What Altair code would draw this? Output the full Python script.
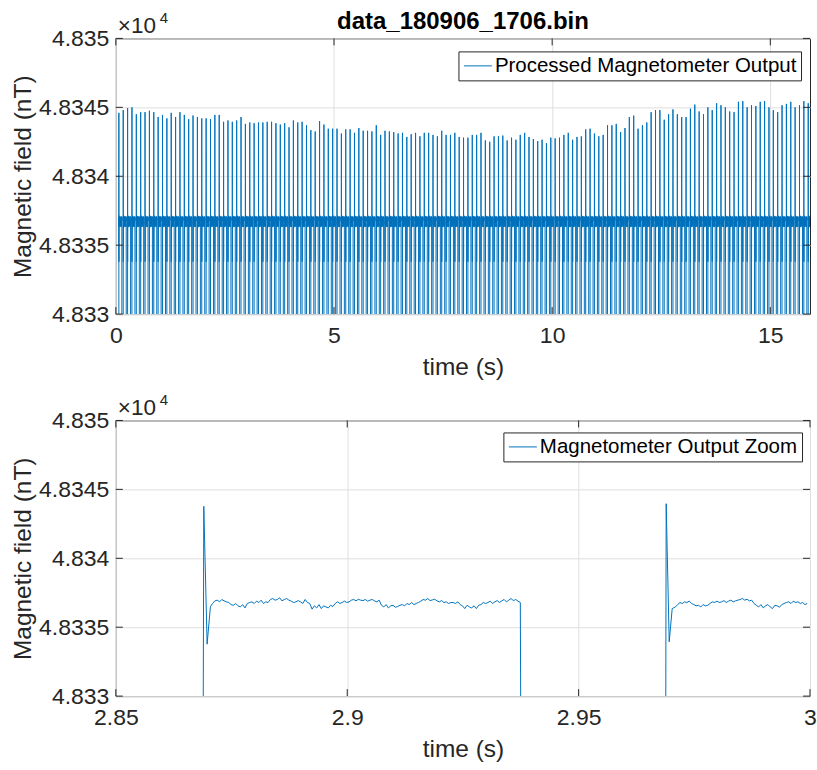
import altair as alt
import pandas as pd

alt.data_transformers.disable_max_rows()

BLUE = "#0072BD"
AX = "#262626"
GRID = "#dfdfdf"
FONT = "Liberation Sans"
W, H = 695, 276

# ---------------- data ----------------
# top panel: one spike every 0.1 s, sampled at 2 kHz
period_s = 0.1
first_rise_s = 0.06864
sample_step_s = 0.0005
spike_offsets_s = [0.0, 0.00036, 0.00108, 0.00179]
plateau_start_s = 0.00226
drop_offset_s = 0.06916
off_level_nT = 48300.0          # below the plotted range
dip_nT = 48333.8
recovery_nT = 48336.48

peak_nT = [
    48344.60, 48344.80, 48344.95, 48345.00, 48344.50, 48344.65, 48344.65, 48344.75, 48344.65, 48344.30,
    48344.45, 48344.20, 48344.60, 48344.30, 48344.65, 48344.45, 48344.15, 48344.40, 48344.30, 48344.20,
    48344.20, 48344.15, 48344.45, 48344.45, 48343.95, 48344.05, 48343.95, 48344.05, 48344.30, 48343.80,
    48343.90, 48343.85, 48343.90, 48343.90, 48343.95, 48343.95, 48343.85, 48343.75, 48343.85, 48343.55,
    48344.05, 48343.90, 48343.95, 48343.70, 48343.35, 48343.25, 48344.00, 48343.75, 48343.45, 48343.45,
    48343.45, 48343.10, 48343.40, 48343.40, 48343.15, 48343.50, 48343.30, 48343.30, 48343.25, 48343.70,
    48343.00, 48343.30, 48343.25, 48343.20, 48343.10, 48343.15, 48342.85, 48343.05, 48343.15, 48342.90,
    48343.15, 48343.15, 48343.00, 48342.90, 48343.30, 48343.00, 48343.00, 48343.15, 48342.85, 48342.80,
    48342.80, 48343.00, 48343.00, 48343.15, 48342.60, 48342.50, 48342.90, 48342.90, 48342.95, 48342.60,
    48342.80, 48342.65, 48343.00, 48343.15, 48342.85, 48342.70, 48342.55, 48342.65, 48342.40, 48342.80,
    48342.75, 48342.80, 48343.00, 48343.15, 48342.65, 48342.85, 48342.90, 48343.40, 48343.45, 48343.10,
    48342.90, 48343.00, 48343.70, 48343.70, 48343.80, 48343.20, 48343.50, 48344.30, 48344.40, 48343.45,
    48343.70, 48343.90, 48344.65, 48344.80, 48344.80, 48344.10, 48344.50, 48344.85, 48344.50, 48344.30,
    48344.30, 48344.90, 48345.20, 48344.70, 48344.50, 48345.00, 48344.80, 48345.30, 48345.15, 48345.00,
    48344.70, 48344.65, 48345.40, 48345.45, 48345.00, 48345.15, 48345.10, 48345.40, 48345.45, 48345.00,
    48344.80, 48344.65, 48345.15, 48345.25, 48345.40, 48345.00, 48345.15, 48345.45, 48345.30,
]

plateau_a_nT = [
    48336.72, 48336.91, 48336.96, 48336.84, 48337.01, 48336.91, 48336.84,
    48336.79, 48336.64, 48336.59, 48336.72, 48336.55, 48336.47, 48336.64, 48336.40, 48336.72,
    48336.79, 48336.84, 48336.72, 48336.89, 48336.79, 48336.96, 48336.72, 48336.84, 48336.79,
    48337.01, 48337.08, 48336.96, 48337.01, 48337.13, 48336.91, 48337.01, 48337.08, 48336.96,
    48336.89, 48336.79, 48336.84, 48336.93, 48336.84, 48336.72, 48337.01, 48336.79, 48336.72,
    48336.31, 48336.55, 48336.40, 48336.64, 48336.35, 48336.55, 48336.47, 48336.40, 48336.59, 48336.50,
    48336.72, 48336.84, 48336.72, 48336.79, 48336.89, 48336.79, 48336.84,
    48336.96, 48337.01, 48336.91, 48337.03, 48336.96, 48336.93, 48337.01, 48336.89, 48336.96,
    48337.01, 48336.91, 48336.84, 48336.96,
    48336.59, 48336.47, 48336.64, 48336.40, 48336.55, 48336.59, 48336.45, 48336.50, 48336.59,
    48336.64, 48336.55,
    48336.72, 48336.64, 48336.79, 48336.64, 48336.72, 48336.79,
    48336.89, 48337.01, 48336.96, 48337.08, 48336.93, 48336.98, 48337.03, 48336.91, 48336.84,
    48336.93, 48336.79, 48336.84, 48336.72, 48336.79,
    48336.79, 48336.72, 48336.84, 48336.64,
    48336.55, 48336.35, 48336.59, 48336.47, 48336.40, 48336.55, 48336.35, 48336.59,
    48336.64, 48336.79, 48336.72, 48336.79, 48336.89, 48336.72, 48336.84, 48336.93, 48336.79,
    48336.91, 48337.01, 48336.84, 48336.96, 48337.08, 48336.93, 48337.01, 48336.89, 48336.79,
]

# bottom (zoom) panel
zoom_spike1_t = [2.86864, 2.86900, 2.86972, 2.87043]
zoom_spike1_v = [48300.0, 48343.77, 48333.77, 48336.48]
zoom_plateau1_start = 2.8709
zoom_drop1_t = 2.9378
zoom_spike2_t = [2.96864, 2.96892, 2.96957, 2.97022]
zoom_spike2_v = [48300.0, 48343.96, 48333.94, 48336.35]
zoom_plateau2_start = 2.9709
plateau_b_nT = [
    48336.47, 48336.64, 48336.79, 48336.72, 48336.84, 48336.79, 48336.89,
    48336.72, 48336.64, 48336.55, 48336.59, 48336.47, 48336.64, 48336.55, 48336.59, 48336.72,
    48336.84, 48336.79, 48336.89, 48336.79, 48336.84, 48336.93, 48336.79, 48336.89, 48336.96,
    48336.84, 48336.91,
    48336.96, 48337.01, 48337.08, 48336.96, 48337.03, 48336.91, 48336.96,
    48336.72, 48336.59, 48336.47, 48336.64, 48336.40, 48336.55, 48336.64, 48336.47, 48336.35,
    48336.59, 48336.55, 48336.45, 48336.64, 48336.72,
    48336.79, 48336.84, 48336.72, 48336.89, 48336.79, 48336.84, 48336.72, 48336.79, 48336.64,
    48336.72,
]

top_x_ticks = [0, 5, 10, 15]
bottom_x_ticks = [2.85, 2.9, 2.95, 3.0]
y_ticks = [48330, 48335, 48340, 48345, 48350]

# ---------------- build tables ----------------
top_t, top_v = [], []
for k, pk in enumerate(peak_nT):
    t0 = first_rise_s + k * period_s
    for off, val in zip(spike_offsets_s, [off_level_nT, pk, dip_nT, recovery_nT]):
        top_t.append(round(t0 + off, 6))
        top_v.append(val)
    for i, val in enumerate(plateau_a_nT):
        top_t.append(round(t0 + plateau_start_s + i * sample_step_s, 6))
        top_v.append(val)
    top_t.append(round(t0 + drop_offset_s, 6))
    top_v.append(off_level_nT)
top_df = pd.DataFrame({"t": top_t, "v": top_v, "series": "Processed Magnetometer Output"})

bt, bv = list(zoom_spike1_t), list(zoom_spike1_v)
for i, val in enumerate(plateau_a_nT):
    bt.append(round(zoom_plateau1_start + i * sample_step_s, 6))
    bv.append(val)
bt.append(zoom_drop1_t)
bv.append(off_level_nT)
bt += zoom_spike2_t
bv += zoom_spike2_v
for i, val in enumerate(plateau_b_nT):
    bt.append(round(zoom_plateau2_start + i * sample_step_s, 6))
    bv.append(val)
bot_df = pd.DataFrame({"t": bt, "v": bv, "series": "Magnetometer Output Zoom"})


def legend(lx, ly):
    # line sample 28 px long, entry height ~ one text line
    return alt.Legend(orient="none", legendX=lx, legendY=ly, title=None, strokeColor=AX,
                      fillColor="white", padding=4, symbolType="M-1.4,0H1.4", symbolSize=400,
                      symbolStrokeWidth=1, symbolOffset=5, labelFontSize=20.5, labelFont=FONT,
                      labelColor="black", labelOffset=6.5, labelLimit=0, cornerRadius=0)


def y_axis():
    return alt.Axis(values=y_ticks, labelExpr="format(datum.value / 10000, '.5~f')",
                    title="Magnetic field (nT)", labelPadding=7, titlePadding=3)


def panel(df, xdom, xticks, xfmt, name, lx, ly, title_text=None):
    xs = alt.Scale(domain=xdom, nice=False, zero=False)
    ys = alt.Scale(domain=[48330, 48350], nice=False, zero=False)
    line = alt.Chart(df).mark_line(strokeWidth=1, clip=True, strokeJoin="bevel").encode(
        x=alt.X("t:Q", scale=xs, axis=alt.Axis(values=xticks, format=xfmt, title="time (s)",
                                               labelPadding=10, titlePadding=8, labelFlush=False)),
        y=alt.Y("v:Q", scale=ys, axis=y_axis()),
        color=alt.Color("series:N", scale=alt.Scale(domain=[name], range=[BLUE]), legend=legend(lx, ly)),
    )
    xt = pd.DataFrame({"t": xticks})
    yt = pd.DataFrame({"v": y_ticks})
    tb = alt.Chart(xt).mark_rule(color=AX, strokeWidth=1).encode(x="t:Q", y=alt.value(H), y2=alt.value(H - 7))
    tt = alt.Chart(xt).mark_rule(color=AX, strokeWidth=1).encode(x="t:Q", y=alt.value(0), y2=alt.value(7))
    tl = alt.Chart(yt).mark_rule(color=AX, strokeWidth=1).encode(y="v:Q", x=alt.value(0), x2=alt.value(7))
    tr = alt.Chart(yt).mark_rule(color=AX, strokeWidth=1).encode(y="v:Q", x=alt.value(W - 7), x2=alt.value(W))
    exp_base = alt.Chart(pd.DataFrame({"s": ["×10"]})).mark_text(
        font=FONT, fontSize=22.5, color=AX, align="left", baseline="alphabetic"
    ).encode(text="s:N", x=alt.value(2), y=alt.value(-5))
    exp_pow = alt.Chart(pd.DataFrame({"s": ["4"]})).mark_text(
        font=FONT, fontSize=15, color=AX, align="left", baseline="alphabetic"
    ).encode(text="s:N", x=alt.value(44), y=alt.value(-15))
    layers = [line, tb, tt, tl, tr, exp_base, exp_pow]
    if title_text:
        ttl = alt.Chart(pd.DataFrame({"s": [title_text]})).mark_text(
            font=FONT, fontSize=24, fontWeight="bold", color="black", align="center", baseline="alphabetic"
        ).encode(text="s:N", x=alt.value(W / 2), y=alt.value(-9))
        layers.append(ttl)
    return alt.layer(*layers).properties(width=W, height=H)


top = panel(top_df, [0, 15.91], top_x_ticks, "~g", "Processed Magnetometer Output", 343, 13,
            "data_180906_1706.bin")
bottom = panel(bot_df, [2.85, 3.0], bottom_x_ticks, "~g", "Magnetometer Output Zoom", 388, 12)

chart = alt.vconcat(top, bottom, spacing=13.5).resolve_scale(
    color="independent", x="independent", y="independent"
).resolve_legend(color="independent").properties(
    padding={"left": 10, "top": 9, "right": 0, "bottom": 4}
).configure(background="white").configure_view(stroke=AX, strokeWidth=1).configure_axis(
    labelFont=FONT, titleFont=FONT, labelFontSize=23, titleFontSize=24.5, labelColor=AX,
    titleColor=AX, titleFontWeight="normal", domain=False, ticks=False, tickSize=0,
    grid=True, gridColor=GRID, gridWidth=1
)

chart.save("out.html", embed_options={"renderer": "svg", "actions": False})
